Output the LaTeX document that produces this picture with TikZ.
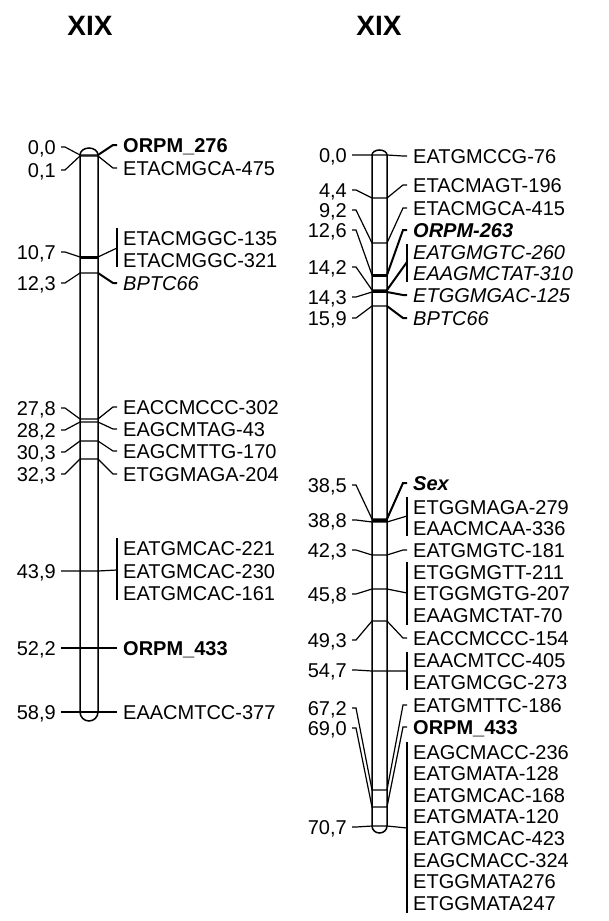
\documentclass[tikz,border=0pt]{standalone}
\usepackage{fontspec}
\setmainfont{Liberation Sans}
\usetikzlibrary{positioning}

\tikzset{
  cmval/.style={font=\fontsize{20}{20}\selectfont, inner sep=1pt, text height=14pt, text depth=0pt, anchor=east},
  mrk/.style={cmval, anchor=west},
  mrkb/.style={mrk, font=\fontsize{20}{20}\selectfont\bfseries},
  mrki/.style={mrk, font=\fontsize{20}{20}\selectfont\itshape},
  mrkbi/.style={mrk, font=\fontsize{20}{20}\selectfont\bfseries\itshape},
  ttl/.style={font=\fontsize{28}{28}\selectfont\bfseries, inner sep=0pt},
  lnk/.style={line width=1.2pt},
  hot/.style={line width=2pt},
  band/.style={line width=3pt},
  chrom/.style={line width=1.5pt, fill=white},
}

\begin{document}
\begin{tikzpicture}[x=1pt, y=-1pt]
  \useasboundingbox[fill=white] (0,0) rectangle (608,921);

  \node[ttl] (ttlA) at (90,26) {XIX};
  \node[ttl] (ttlB) at (379,26) {XIX};

  % left linkage group
  \draw[chrom] (80,712) -- (80,155) arc[start angle=180, end angle=360, x radius=9, y radius=7]
    -- (98,712) arc[start angle=0, end angle=180, x radius=9, y radius=9] -- cycle;

  \node[cmval] (pA1) at (57,147) {0,0};
  \node[cmval] (pA2) at (57,170) {0,1};
  \node[cmval] (pA3) at (57,252) {10,7};
  \node[cmval] (pA4) at (57,283) {12,3};
  \node[cmval] (pA5) at (57,408) {27,8};
  \node[cmval] (pA6) at (57,430) {28,2};
  \node[cmval] (pA7) at (57,452) {30,3};
  \node[cmval] (pA8) at (57,474) {32,3};
  \node[cmval] (pA9) at (57,571) {43,9};
  \node[cmval] (pA10) at (57,648) {52,2};
  \node[cmval] (pA11) at (57,712) {58,9};

  \node[mrkb] (mA1) at (122,145) {ORPM\_276};
  \node[mrk] (mA2) at (122,168) {ETACMGCA-475};
  \node[mrk] (mA3a) at (122,238) {ETACMGGC-135};
  \node[mrk] (mA3b) at (122,260) {ETACMGGC-321};
  \node[mrki] (mA4) at (122,283) {BPTC66};
  \node[mrk] (mA5) at (122,407) {EACCMCCC-302};
  \node[mrk] (mA6) at (122,429) {EAGCMTAG-43};
  \node[mrk] (mA7) at (122,451) {EAGCMTTG-170};
  \node[mrk] (mA8) at (122,474) {ETGGMAGA-204};
  \node[mrk] (mA9a) at (122,548) {EATGMCAC-221};
  \node[mrk] (mA9b) at (122,571) {EATGMCAC-230};
  \node[mrk] (mA9c) at (122,593) {EATGMCAC-161};
  \node[mrkb] (mA10) at (122,648) {ORPM\_433};
  \node[mrk] (mA11) at (122,712) {EAACMTCC-377};

  \coordinate (gA3) at (117,248);
  \coordinate (gA9) at (117,570);
  \draw[lnk] (117,228) -- (117,267);
  \draw[lnk] (117,538) -- (117,600);

  \draw[lnk] ([xshift=4]pA1.east) -- ++(4,0) -- (80,155) -- (98,155);
  \draw[hot] (98,155) -- ([xshift=-9]mA1.west) -- ([xshift=-5]mA1.west);
  \draw[lnk] ([xshift=4]pA2.east) -- ++(4,0) -- (80,156) -- (98,156) -- ([xshift=-9]mA2.west) -- ([xshift=-5]mA2.west);
  \draw[lnk] ([xshift=4]pA3.east) -- ++(4,0) -- (80,257) -- (98,257) -- (gA3);
  \draw[band] (80,257) -- (98,257);
  \draw[lnk] ([xshift=4]pA4.east) -- ++(4,0) -- (80,273) -- (98,273);
  \draw[hot] (98,273) -- ([xshift=-9]mA4.west) -- ([xshift=-5]mA4.west);
  \draw[lnk] ([xshift=4]pA5.east) -- ++(4,0) -- (80,419) -- (98,419) -- ([xshift=-9]mA5.west) -- ([xshift=-5]mA5.west);
  \draw[lnk] ([xshift=4]pA6.east) -- ++(4,0) -- (80,422) -- (98,422) -- ([xshift=-9]mA6.west) -- ([xshift=-5]mA6.west);
  \draw[lnk] ([xshift=4]pA7.east) -- ++(4,0) -- (80,441) -- (98,441) -- ([xshift=-9]mA7.west) -- ([xshift=-5]mA7.west);
  \draw[lnk] ([xshift=4]pA8.east) -- ++(4,0) -- (80,459) -- (98,459) -- ([xshift=-9]mA8.west) -- ([xshift=-5]mA8.west);
  \draw[lnk] ([xshift=4]pA9.east) -- ++(4,0) -- (80,571) -- (98,571) -- (gA9);
  \draw[lnk] ([xshift=4]pA10.east) -- ++(4,0) -- (80,648) -- (98,648) -- ([xshift=-9]mA10.west) -- ([xshift=-5]mA10.west);
  \draw[lnk] ([xshift=4]pA11.east) -- ++(4,0) -- (80,712) -- (98,712) -- ([xshift=-9]mA11.west) -- ([xshift=-5]mA11.west);

  % right linkage group
  \draw[chrom] (372,826) -- (372,155) arc[start angle=180, end angle=360, x radius=7.5, y radius=5]
    -- (387,826) arc[start angle=0, end angle=180, x radius=7.5, y radius=7] -- cycle;

  \node[cmval] (pB1) at (348,155) {0,0};
  \node[cmval] (pB2) at (348,190) {4,4};
  \node[cmval] (pB3) at (348,210) {9,2};
  \node[cmval] (pB4) at (348,230) {12,6};
  \node[cmval] (pB5) at (348,267) {14,2};
  \node[cmval] (pB6) at (348,297) {14,3};
  \node[cmval] (pB7) at (348,318) {15,9};
  \node[cmval] (pB8) at (348,485) {38,5};
  \node[cmval] (pB9) at (348,520) {38,8};
  \node[cmval] (pB10) at (348,550) {42,3};
  \node[cmval] (pB11) at (348,594) {45,8};
  \node[cmval] (pB12) at (348,640) {49,3};
  \node[cmval] (pB13) at (348,670) {54,7};
  \node[cmval] (pB14) at (348,708) {67,2};
  \node[cmval] (pB15) at (348,728) {69,0};
  \node[cmval] (pB16) at (348,827) {70,7};

  \node[mrk] (mB1) at (412,156) {EATGMCCG-76};
  \node[mrk] (mB2) at (412,185) {ETACMAGT-196};
  \node[mrk] (mB3) at (412,208) {ETACMGCA-415};
  \node[mrkbi] (mB4) at (412,230) {ORPM-263};
  \node[mrki] (mB5a) at (412,252) {EATGMGTC-260};
  \node[mrki] (mB5b) at (412,273) {EAAGMCTAT-310};
  \node[mrki] (mB6) at (412,295) {ETGGMGAC-125};
  \node[mrki] (mB7) at (412,318) {BPTC66};
  \node[mrkbi] (mB8) at (412,483) {Sex};
  \node[mrk] (mB9a) at (412,507) {ETGGMAGA-279};
  \node[mrk] (mB9b) at (412,528) {EAACMCAA-336};
  \node[mrk] (mB10) at (412,550) {EATGMGTC-181};
  \node[mrk] (mB11a) at (412,572) {ETGGMGTT-211};
  \node[mrk] (mB11b) at (412,593) {ETGGMGTG-207};
  \node[mrk] (mB11c) at (412,615) {EAAGMCTAT-70};
  \node[mrk] (mB12) at (412,638) {EACCMCCC-154};
  \node[mrk] (mB13a) at (412,660) {EAACMTCC-405};
  \node[mrk] (mB13b) at (412,682) {EATGMCGC-273};
  \node[mrk] (mB14) at (412,705) {EATGMTTC-186};
  \node[mrkb] (mB15) at (412,727) {ORPM\_433};
  \node[mrk] (mB16a) at (412,752) {EAGCMACC-236};
  \node[mrk] (mB16b) at (412,773.6) {EATGMATA-128};
  \node[mrk] (mB16c) at (412,795.2) {EATGMCAC-168};
  \node[mrk] (mB16d) at (412,816.8) {EATGMATA-120};
  \node[mrk] (mB16e) at (412,838.4) {EATGMCAC-423};
  \node[mrk] (mB16f) at (412,860) {EAGCMACC-324};
  \node[mrk] (mB16g) at (412,881.6) {ETGGMATA276};
  \node[mrk] (mB16h) at (412,903.2) {ETGGMATA247};

  \coordinate (gB5) at (407,262);
  \coordinate (gB9) at (407,516);
  \coordinate (gB11) at (407,593);
  \coordinate (gB13) at (407,671);
  \coordinate (gB16) at (407,828);
  \draw[hot] (407,244) -- (407,282);
  \draw[lnk] (407,497) -- (407,536);
  \draw[lnk] (407,562) -- (407,625);
  \draw[lnk] (407,652) -- (407,690);
  \draw[lnk] (407,742) -- (407,913);

  \draw[lnk] ([xshift=4]pB1.east) -- ++(4,0) -- (372,155) -- (387,155) -- ([xshift=-9]mB1.west) -- ([xshift=-5]mB1.west);
  \draw[lnk] ([xshift=4]pB2.east) -- ++(4,0) -- (372,198) -- (387,198) -- ([xshift=-9]mB2.west) -- ([xshift=-5]mB2.west);
  \draw[lnk] ([xshift=4]pB3.east) -- ++(4,0) -- (372,243) -- (387,243) -- ([xshift=-9]mB3.west) -- ([xshift=-5]mB3.west);
  \draw[lnk] ([xshift=4]pB4.east) -- ++(4,0) -- (372,275) -- (387,275);
  \draw[hot] (387,275) -- ([xshift=-9]mB4.west) -- ([xshift=-5]mB4.west);
  \draw[band] (372,275) -- (387,275);
  \draw[lnk] ([xshift=4]pB5.east) -- ++(4,0) -- (372,290) -- (387,290);
  \draw[hot] (387,290) -- (gB5);
  \draw[lnk] ([xshift=4]pB6.east) -- ++(4,0) -- (372,292) -- (387,292);
  \draw[hot] (387,292) -- ([xshift=-9]mB6.west) -- ([xshift=-5]mB6.west);
  \draw[band] (372,291) -- (387,291);
  \draw[lnk] ([xshift=4]pB7.east) -- ++(4,0) -- (372,306) -- (387,306);
  \draw[hot] (387,306) -- ([xshift=-9]mB7.west) -- ([xshift=-5]mB7.west);
  \draw[lnk] ([xshift=4]pB8.east) -- ++(4,0) -- (372,519) -- (387,519);
  \draw[hot] (387,519) -- ([xshift=-9]mB8.west) -- ([xshift=-5]mB8.west);
  \draw[lnk] ([xshift=4]pB9.east) -- ++(4,0) -- (372,522) -- (387,522) -- (gB9);
  \draw[band] (372,520.5) -- (387,520.5);
  \draw[lnk] ([xshift=4]pB10.east) -- ++(4,0) -- (372,555) -- (387,555) -- ([xshift=-9]mB10.west) -- ([xshift=-5]mB10.west);
  \draw[lnk] ([xshift=4]pB11.east) -- ++(4,0) -- (372,589) -- (387,589) -- (gB11);
  \draw[lnk] ([xshift=4]pB12.east) -- ++(4,0) -- (372,621) -- (387,621) -- ([xshift=-9]mB12.west) -- ([xshift=-5]mB12.west);
  \draw[lnk] ([xshift=4]pB13.east) -- ++(4,0) -- (372,671) -- (387,671) -- (gB13);
  \draw[lnk] ([xshift=4]pB14.east) -- ++(4,0) -- (372,790) -- (387,790) -- ([xshift=-9]mB14.west) -- ([xshift=-5]mB14.west);
  \draw[lnk] ([xshift=4]pB15.east) -- ++(4,0) -- (372,807) -- (387,807) -- ([xshift=-9]mB15.west) -- ([xshift=-5]mB15.west);
  \draw[lnk] ([xshift=4]pB16.east) -- ++(4,0) -- (372,826) -- (387,826) -- (gB16);
\end{tikzpicture}
\end{document}
